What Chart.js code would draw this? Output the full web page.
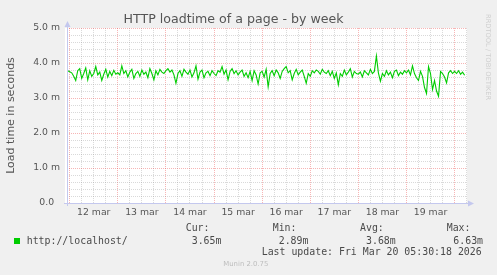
<!DOCTYPE html>
<html><head><meta charset="utf-8">
<script src="https://cdn.jsdelivr.net/npm/chart.js@4.4.1/dist/chart.umd.min.js"></script>
<style>
html,body{margin:0;padding:0;background:#f0f0f0;width:497px;height:275px;overflow:hidden;}
#wrap{position:relative;width:497px;height:275px;}
canvas{position:absolute;left:0;top:0;}
.t{position:absolute;white-space:pre;font-family:'DejaVu Sans Mono',monospace;font-size:9.9px;line-height:10px;color:#4a4a4a;}
</style></head><body>
<div id="wrap"><canvas id="c" width="497" height="275"></canvas>
<div style="position:absolute;left:14px;top:237.5px;width:6px;height:6px;background:#00cc00"></div>
<div class="t" id="series" style="left:26.7px;top:235.5px"></div>
<div class="t" style="left:185.7px;top:222.8px">Cur:</div>
<div class="t" style="left:272.7px;top:222.8px">Min:</div>
<div class="t" style="left:360px;top:222.8px">Avg:</div>
<div class="t" style="left:446.7px;top:222.8px">Max:</div>
<div class="t" id="vcur" style="left:191.7px;top:235.5px"></div>
<div class="t" id="vmin" style="left:278.7px;top:235.5px"></div>
<div class="t" id="vavg" style="left:366px;top:235.5px"></div>
<div class="t" id="vmax" style="left:453.3px;top:235.5px"></div>
<div class="t" style="left:261.7px;top:247px">Last update: Fri Mar 20 05:30:18 2026</div>
<div style="position:absolute;left:223.3px;top:260.5px;font-family:'DejaVu Sans';font-size:6.9px;line-height:7px;color:#bdbdbd;white-space:pre">Munin 2.0.75</div>
<div style="position:absolute;left:484px;top:14px;writing-mode:vertical-rl;font-family:'DejaVu Sans';font-size:6.7px;line-height:7px;color:#cfcfcf;white-space:pre">RRDTOOL / TOBI OETIKER</div>
</div>
<script>
// ---- data (hours relative to 12 mar 00:00, one value per hour) ----
const startHour = -1;
const stepHours = 1;
const loadtime = [
 3.78,
 // 12 mar
 3.75,3.72,3.62,3.50,3.78,3.84,3.56,3.70,3.86,3.52,3.78,3.62,3.70,3.90,3.66,3.74,3.50,3.68,3.82,3.60,3.76,3.64,3.79,3.68,
 // 13 mar
 3.72,3.66,3.92,3.70,3.78,3.60,3.74,3.82,3.56,3.70,3.76,3.62,3.80,3.68,3.74,3.58,3.84,3.70,3.52,3.78,3.66,3.82,3.74,3.70,
 // 14 mar
 3.78,3.84,3.74,3.80,3.66,3.42,3.70,3.78,3.62,3.82,3.74,3.68,3.80,3.60,3.72,3.92,3.54,3.74,3.80,3.58,3.72,3.76,3.64,3.78,
 // 15 mar
 3.70,3.64,3.78,3.74,3.90,3.68,3.80,3.52,3.76,3.84,3.70,3.78,3.66,3.74,3.80,3.62,3.72,3.58,3.76,3.50,3.78,3.66,3.40,3.72,
 // 16 mar
 3.76,3.60,3.82,3.32,3.70,3.78,3.64,3.80,3.72,3.56,3.76,3.84,3.90,3.72,3.78,3.52,3.70,3.82,3.66,3.74,3.80,3.62,3.42,3.70,
 // 17 mar
 3.62,3.78,3.72,3.80,3.76,3.68,3.82,3.74,3.70,3.78,3.64,3.76,3.56,3.72,3.38,3.70,3.62,3.80,3.66,3.74,3.84,3.60,3.76,3.70,
 // 18 mar
 3.68,3.74,3.60,3.78,3.72,3.66,3.82,3.70,3.76,4.20,3.72,3.48,3.70,3.62,3.78,3.66,3.74,3.58,3.76,3.80,3.64,3.74,3.68,3.78,
 // 19 mar
 3.72,3.80,3.66,3.92,3.70,3.58,3.50,3.76,3.62,3.30,3.13,3.90,3.70,3.24,3.50,3.20,3.05,3.76,3.70,3.60,3.43,3.72,3.78,3.70,
 // 20 mar
 3.76,3.70,3.78,3.68,3.74,3.65
];
const dayLabels = ['12 mar','13 mar','14 mar','15 mar','16 mar','17 mar','18 mar','19 mar'];
const yTickLabels = ['0.0  ','1.0 m','2.0 m','3.0 m','4.0 m','5.0 m'];
const seriesName = 'http://localhost/';
const stats = {cur:'3.65m', min:'2.89m', avg:'3.68m', max:'6.63m'};

document.getElementById('series').textContent = seriesName;
document.getElementById('vcur').textContent = stats.cur;
document.getElementById('vmin').textContent = stats.min;
document.getElementById('vavg').textContent = stats.avg;
document.getElementById('vmax').textContent = stats.max;

const points = loadtime.map((v,i)=>({x:startHour + i*stepHours, y:v}));

const RED = 'rgba(235,60,60,0.38)';
const GREY = 'rgba(150,150,150,0.36)';
const AXIS = '#c4c8ee';

const bgPlugin = {
  id:'bg',
  beforeDraw(chart){
    const {ctx, chartArea:a} = chart;
    ctx.save(); ctx.fillStyle='#ffffff';
    ctx.fillRect(a.left-2, a.top, a.right-a.left+2, a.bottom-a.top);
    ctx.restore();
  },
  afterDraw(chart){
    const {ctx, chartArea:a} = chart;
    ctx.save();
    ctx.strokeStyle=AXIS; ctx.fillStyle=AXIS; ctx.lineWidth=1;
    ctx.beginPath();
    ctx.moveTo(a.left+0.5, a.bottom+3); ctx.lineTo(a.left+0.5, a.top-3);
    ctx.moveTo(a.left-3, a.bottom+0.5); ctx.lineTo(a.right+3, a.bottom+0.5);
    ctx.stroke();
    ctx.beginPath();
    ctx.moveTo(a.left+0.5, a.top-7); ctx.lineTo(a.left-2.5, a.top-1); ctx.lineTo(a.left+3.5, a.top-1); ctx.closePath(); ctx.fill();
    ctx.beginPath();
    ctx.moveTo(a.right+7, a.bottom+0.5); ctx.lineTo(a.right+1, a.bottom-2.5); ctx.lineTo(a.right+1, a.bottom+3.5); ctx.closePath(); ctx.fill();
    ctx.restore();
  }
};

const isInt = v => Math.abs(v - Math.round(v)) < 1e-6;

new Chart(document.getElementById('c'), {
  type:'line',
  data:{datasets:[{label:seriesName, data:points, borderColor:'#00cc00', borderWidth:1.1, pointRadius:0, tension:0, fill:false}]},
  options:{
    responsive:false, animation:false, devicePixelRatio:1,
    layout:{padding:{left:0, right:30, top:0, bottom:0}},
    plugins:{
      legend:{display:false}, tooltip:{enabled:false},
      title:{display:true, text:'HTTP loadtime of a page - by week', color:'#555555',
        font:{family:'DejaVu Sans', size:12.6, weight:'normal', lineHeight:1.2},
        padding:{top:12, bottom:0.9}}
    },
    scales:{
      x:{type:'linear', min:-1.35, max:198.2,
        afterBuildTicks(scale){ const t=[]; for(let h=0; h<=198; h+=6) t.push({value:h}); scale.ticks=t; },
        afterFit(scale){ scale.height = 72; },
        ticks:{autoSkip:false, maxRotation:0, minRotation:0, padding:4, color:'#555555',
          font:{family:'DejaVu Sans', size:9.3},
          callback(v){ return (v % 24 === 12) ? dayLabels[(v-12)/24] : ''; }},
        grid:{drawTicks:false, lineWidth:1, color(c){ return (c.tick && c.tick.value % 24 === 0) ? RED : GREY; }},
        border:{display:false, dash:[1,1]}
      },
      y:{type:'linear', min:0, max:5,
        afterBuildTicks(scale){ const t=[]; for(let i=0;i<=25;i++) t.push({value:i/5}); scale.ticks=t; },
        afterFit(scale){ scale.width = 67; },
        ticks:{autoSkip:false, padding:7, color:'#555555', font:{family:'DejaVu Sans', size:9.3},
          callback(v){ return isInt(v) ? yTickLabels[Math.round(v)] : ''; }},
        grid:{drawTicks:false, lineWidth:1, color(c){ return (c.tick && isInt(c.tick.value)) ? RED : GREY; }},
        border:{display:false, dash:[1,1]},
        title:{display:true, text:'Load time in seconds', color:'#555555',
          font:{family:'DejaVu Sans', size:11, lineHeight:1.2}, padding:{top:4.4, bottom:0}}
      }
    }
  },
  plugins:[bgPlugin]
});
</script>
</body></html>
